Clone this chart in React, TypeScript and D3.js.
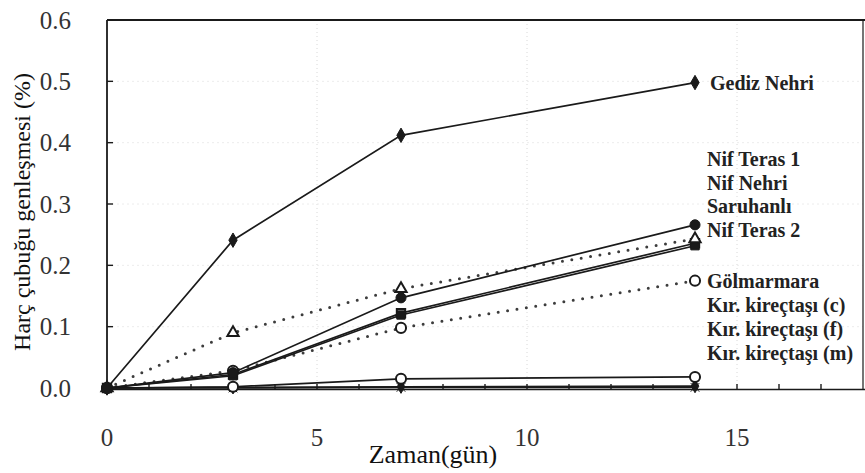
import React from "react";
import * as d3 from "d3";

const days = [0, 3, 7, 14];
const xTicks = [0, 5, 10, 15];
const yTicks = [0, 0.1, 0.2, 0.3, 0.4, 0.5, 0.6];

const gedizNehri = [0, 0.241, 0.412, 0.498];
const nifTeras1 = [0, 0.025, 0.147, 0.266];
const nifNehri = [0, 0.09, 0.162, 0.243];
const saruhanli = [0, 0.02, 0.119, 0.232];
const nifTeras2 = [0, 0.022, 0.122, 0.236];
const golmarmara = [0, 0.028, 0.098, 0.175];
const kirC = [0, 0.002, 0.015, 0.018];
const kirF = [0, 0.001, 0.002, 0.003];
const kirM = [0, 0.0, 0.001, 0.001];

const upperLabels = ["Nif Teras 1", "Nif Nehri", "Saruhanlı", "Nif Teras 2"];
const lowerLabels = ["Kır. kireçtaşı (c)", "Kır. kireçtaşı (f)", "Kır. kireçtaşı (m)"];

type Series = { name: string; values: number[]; symbol: any; size: number; filled: boolean; dotted: boolean };

const series: Series[] = [
  { name: "Kır. kireçtaşı (m)", values: kirM, symbol: d3.symbolX, size: 50, filled: true, dotted: false },
  { name: "Kır. kireçtaşı (f)", values: kirF, symbol: d3.symbolDiamond, size: 50, filled: true, dotted: false },
  { name: "Kır. kireçtaşı (c)", values: kirC, symbol: d3.symbolCircle, size: 80, filled: false, dotted: false },
  { name: "Gölmarmara", values: golmarmara, symbol: d3.symbolCircle, size: 80, filled: false, dotted: true },
  { name: "Nif Teras 2", values: nifTeras2, symbol: d3.symbolSquare, size: 70, filled: false, dotted: false },
  { name: "Saruhanlı", values: saruhanli, symbol: d3.symbolSquare, size: 70, filled: true, dotted: false },
  { name: "Nif Nehri", values: nifNehri, symbol: d3.symbolTriangle, size: 55, filled: false, dotted: true },
  { name: "Nif Teras 1", values: nifTeras1, symbol: d3.symbolCircle, size: 80, filled: true, dotted: false },
  { name: "Gediz Nehri", values: gedizNehri, symbol: d3.symbolDiamond, size: 60, filled: true, dotted: false },
];

export default function App() {
  const W = 865, H = 473;
  const left = 107, right = 863, top = 20, bottom = 388;
  const x = d3.scaleLinear().domain([0, 18]).range([left, right]);
  const y = d3.scaleLinear().domain([0, 0.6]).range([bottom, top]);
  const line = d3.line<number>().x((_, i) => x(days[i])).y((v) => y(v));
  const minor = d3.range(1, 18);
  const ink = "#1a1a1a";
  const serif = "Liberation Serif, DejaVu Serif, serif";
  const labelX = x(14) + 15;
  const lastIdx = days.length - 1;
  const upperBase = y(nifTeras1[lastIdx]) + 5;
  const golY = y(golmarmara[lastIdx]);

  return (
    <svg width={W} height={H} style={{ position: "absolute", left: 0, top: 0, background: "#fff" }}>
      {xTicks.filter((t) => t > 0).map((t) => (
        <line key={"gx" + t} x1={x(t)} x2={x(t)} y1={top} y2={bottom} stroke="#d8d8d8" strokeWidth={1} strokeDasharray="1 3" />
      ))}
      {yTicks.filter((t) => t > 0 && t < 0.6).map((t) => (
        <line key={"gy" + t} x1={left} x2={right} y1={y(t)} y2={y(t)} stroke="#ececec" strokeWidth={1} strokeDasharray="2 3" />
      ))}
      <line x1={left} x2={right + 2} y1={top} y2={top} stroke={ink} strokeWidth={2.2} />
      <line x1={left} x2={left} y1={top} y2={bottom + 2} stroke={ink} strokeWidth={1.8} />
      <line x1={left} x2={right + 2} y1={bottom + 1.5} y2={bottom + 1.5} stroke={ink} strokeWidth={1.6} />
      <line x1={right} x2={right} y1={top} y2={bottom + 2} stroke={ink} strokeWidth={1.2} />
      {yTicks.map((t) => (
        <line key={"yt" + t} x1={left} x2={left + 6} y1={y(t)} y2={y(t)} stroke={ink} strokeWidth={1.4} />
      ))}
      {minor.map((t) => (
        <line key={"xt" + t} x1={x(t)} x2={x(t)} y1={bottom + 1.5} y2={bottom - 4} stroke={ink} strokeWidth={1.4} />
      ))}
      {yTicks.map((t) => (
        <text key={"yl" + t} x={left - 36} y={y(t)} dy="0.35em" textAnchor="end" fontFamily={serif} fontSize={25} fill="#333">
          {t.toFixed(1)}
        </text>
      ))}
      {xTicks.map((t) => (
        <text key={"xl" + t} x={x(t)} y={437} dy="0.35em" textAnchor="middle" fontFamily={serif} fontSize={25} fill="#333">
          {t}
        </text>
      ))}
      <text x={433} y={463} textAnchor="middle" fontFamily={serif} fontSize={26} fill="#111">Zaman(gün)</text>
      <text transform="translate(30,212) rotate(-90)" textAnchor="middle" fontFamily={serif} fontSize={24} fill="#111">
        Harç çubuğu genleşmesi (%)
      </text>
      {series.map((s) => (
        <path
          key={"l" + s.name}
          d={line(s.values) || ""}
          fill="none"
          stroke={ink}
          strokeWidth={s.dotted ? 3 : 1.7}
          strokeDasharray={s.dotted ? "0 9.5" : undefined}
          strokeLinecap={s.dotted ? "round" : "butt"}
          opacity={s.dotted ? 0.85 : 1}
        />
      ))}
      {series.map((s) =>
        s.values.map((v, i) => (
          <path
            key={"m" + s.name + i}
            transform={`translate(${x(days[i])},${y(v)})`}
            d={d3.symbol().type(s.symbol).size(s.size)() || ""}
            fill={s.filled ? ink : "#fff"}
            stroke={ink}
            strokeWidth={s.filled ? 1 : 2}
          />
        ))
      )}
      <text x={labelX} y={y(gedizNehri[lastIdx])} dy="0.35em" fontFamily={serif} fontWeight="bold" fontSize={20} fill="#222">
        Gediz Nehri
      </text>
      {upperLabels.map((l, i) => (
        <text key={l} x={labelX - 3} y={upperBase - (upperLabels.length - 1 - i) * 23.5} dy="0.35em" fontFamily={serif} fontWeight="bold" fontSize={20} fill="#222">
          {l}
        </text>
      ))}
      <text x={labelX - 3} y={golY} dy="0.35em" fontFamily={serif} fontWeight="bold" fontSize={20} fill="#222">
        Gölmarmara
      </text>
      {lowerLabels.map((l, i) => (
        <text key={l} x={labelX - 3} y={golY + (i + 1) * 24} dy="0.35em" fontFamily={serif} fontWeight="bold" fontSize={20} fill="#222">
          {l}
        </text>
      ))}
    </svg>
  );
}
